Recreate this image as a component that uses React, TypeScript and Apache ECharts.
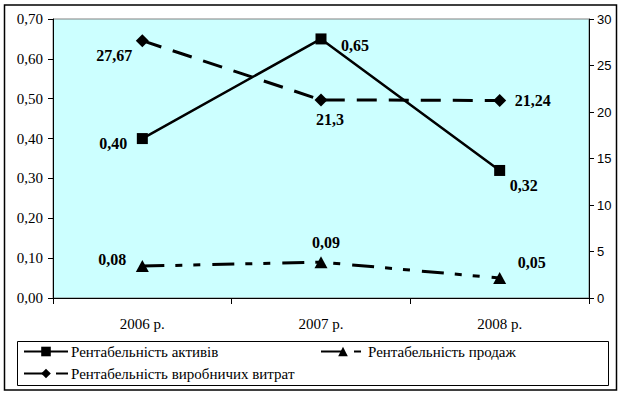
import React, { useEffect, useRef } from "react";
import * as echarts from "echarts";

const categories = ["2006 р.", "2007 р.", "2008 р."];
const assetsName = "Рентабельність активів";
const salesName = "Рентабельність продаж";
const costsName = "Рентабельність виробничих витрат";
const assetsValues = [0.4, 0.65, 0.32];
const salesValues = [0.08, 0.09, 0.05];
const costsValues = [27.67, 21.3, 21.24];

// label offsets (layout only)
const assetsOffsets = [[-29, 5], [34, 7], [24, 15]];
const salesOffsets = [[-30, -7], [5, -20], [32, -16]];
const costsOffsets = [[-28, 15], [9, 20], [33, 0]];

const SERIF = "Liberation Serif, serif";
const SANS = "Liberation Sans, sans-serif";

export default function App() {
  const ref = useRef<HTMLDivElement>(null);
  useEffect(() => {
    document.body.style.margin = "0";
    if (!ref.current) return;
    const chart = echarts.init(ref.current, null, { renderer: "svg" });
    const labelBase = {
      show: true,
      position: "inside",
      fontFamily: SERIF,
      fontSize: 16,
      fontWeight: "bold",
      color: "#000",
      align: "center",
      verticalAlign: "middle",
    };
    const mk = (vals: number[], offs: number[][], fmt: (v: number) => string) =>
      vals.map((v, i) => ({
        value: v,
        label: { ...labelBase, offset: offs[i], formatter: () => fmt(v) },
      }));
    const legendBase = {
      orient: "horizontal",
      itemWidth: 44,
      itemHeight: 12,
      itemGap: 6,
      selectedMode: false,
      textStyle: { fontFamily: SERIF, fontSize: 15, color: "#000", padding: [0, 0, 0, -2] },
      padding: 0,
    };
    chart.setOption({
      animation: false,
      backgroundColor: "#fff",
      textStyle: { fontFamily: SERIF },
      grid: {
        left: 53,
        right: 35,
        top: 19,
        bottom: 98,
        show: true,
        backgroundColor: "#CCFFFF",
        borderColor: "#808080",
        borderWidth: 1,
      },
      xAxis: {
        type: "category",
        data: categories,
        boundaryGap: true,
        axisLine: { show: true, lineStyle: { color: "#000", width: 1 } },
        axisTick: { show: true, alignWithLabel: false, length: 6, lineStyle: { color: "#000" } },
        axisLabel: { fontFamily: SERIF, fontSize: 15, color: "#000", margin: 18 },
        splitLine: { show: false },
      },
      yAxis: [
        {
          type: "value",
          min: 0,
          max: 0.7,
          interval: 0.1,
          position: "left",
          axisLine: { show: true, lineStyle: { color: "#000", width: 1 } },
          axisTick: { show: true, length: 5, lineStyle: { color: "#000" } },
          axisLabel: {
            fontFamily: SERIF,
            fontSize: 15,
            color: "#000",
            margin: 10,
            formatter: (v: number) => v.toFixed(2).replace(".", ","),
          },
          splitLine: { show: false },
        },
        {
          type: "value",
          min: 0,
          max: 30,
          interval: 5,
          position: "right",
          axisLine: { show: true, lineStyle: { color: "#000", width: 1 } },
          axisTick: { show: true, length: 5, lineStyle: { color: "#000" } },
          axisLabel: { fontFamily: SANS, fontSize: 13, color: "#000", margin: 8 },
          splitLine: { show: false },
        },
      ],
      legend: [
        { ...legendBase, left: 23, top: 344, data: [assetsName] },
        { ...legendBase, left: 320, top: 344, data: [salesName] },
        { ...legendBase, left: 23, top: 366, data: [costsName] },
      ],
      series: [
        {
          name: assetsName,
          type: "line",
          yAxisIndex: 0,
          data: mk(assetsValues, assetsOffsets, (v) => v.toFixed(2).replace(".", ",")),
          symbol: "rect",
          symbolSize: 11,
          itemStyle: { color: "#000" },
          lineStyle: { color: "#000", width: 2.5, type: "solid" },
          z: 3,
        },
        {
          name: salesName,
          type: "line",
          yAxisIndex: 0,
          data: mk(salesValues, salesOffsets, (v) => v.toFixed(2).replace(".", ",")),
          symbol: "triangle",
          symbolSize: [13, 12],
          itemStyle: { color: "#000" },
          lineStyle: { color: "#000", width: 3, type: [22, 11, 7, 11, 7, 12] },
          z: 2,
        },
        {
          name: costsName,
          type: "line",
          yAxisIndex: 1,
          data: mk(costsValues, costsOffsets, (v) => String(v).replace(".", ",")),
          symbol: "diamond",
          symbolSize: 13,
          itemStyle: { color: "#000" },
          lineStyle: { color: "#000", width: 3, type: [20, 12] },
          z: 2,
        },
      ],
      graphic: [
        {
          type: "rect",
          shape: { x: 4.5, y: 5, width: 612, height: 385 },
          style: { fill: "none", stroke: "#000", lineWidth: 1.5 },
          silent: true,
        },
        {
          type: "rect",
          shape: { x: 17.5, y: 341.5, width: 591, height: 44 },
          style: { fill: "none", stroke: "#000", lineWidth: 1 },
          silent: true,
        },
      ],
    });
    return () => chart.dispose();
  }, []);
  return <div ref={ref} style={{ width: 624, height: 396 }} />;
}
